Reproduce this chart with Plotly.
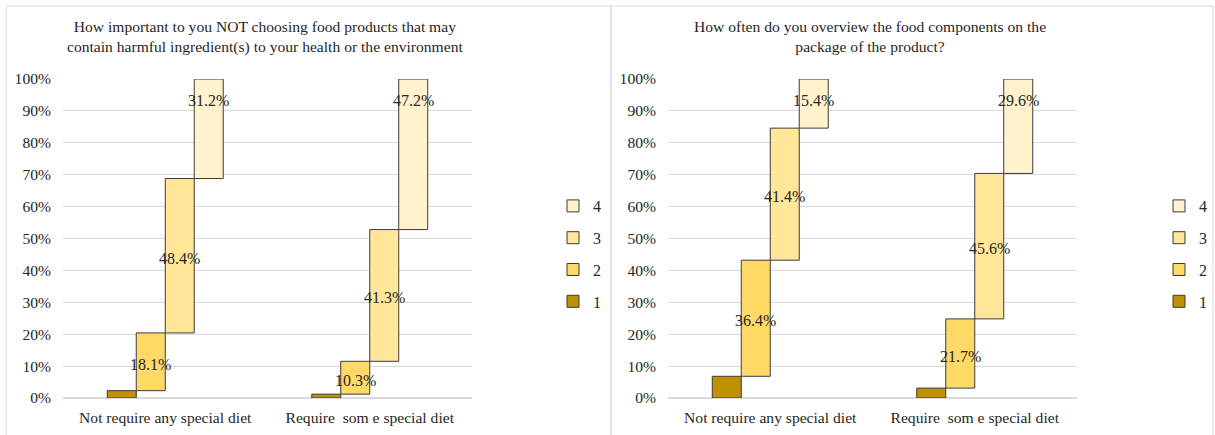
import plotly.graph_objects as go

# Survey results: share of answers 1..4 per diet group (percent)
categories = ["Not require any special diet", "Require  som e special diet"]
levels = ["1", "2", "3", "4"]

importance_not_req = [2.3, 18.1, 48.4, 31.2]
importance_req = [1.2, 10.3, 41.3, 47.2]
overview_not_req = [6.8, 36.4, 41.4, 15.4]
overview_req = [3.1, 21.7, 45.6, 29.6]

title_left = "How important to you NOT choosing food products that may<br>contain harmful ingredient(s) to your health or the environment"
title_right = "How often do you overview the food components on the<br>package of the product?"

colors = ["#BF9000", "#FFD966", "#FFE699", "#FFF2CC"]
edge = "#3B3B3B"
font_family = "Liberation Serif"
text_color = "#262626"

BARGAP = 0.433
N_LEVELS = len(levels)
TOP_LABEL_Y = 93.4  # labels of the top segment sit just under the 100% line

fig = go.Figure()


def bases(values):
    out, acc = [], 0.0
    for v in values:
        out.append(acc)
        acc += v
    return out


def add_panel(series_a, series_b, xaxis, yaxis, legend):
    base_a = bases(series_a)
    base_b = bases(series_b)
    for i, lvl in enumerate(levels):
        fig.add_trace(go.Bar(
            x=categories,
            y=[series_a[i], series_b[i]],
            base=[base_a[i], base_b[i]],
            name=lvl,
            marker=dict(color=colors[i], line=dict(color=edge, width=1)),
            xaxis=xaxis, yaxis=yaxis,
            legend=legend, legendgroup=legend + lvl,
            legendrank=N_LEVELS - i,
            hoverinfo="skip",
        ))
    # value labels for levels 2..4, centred on each floating bar
    width = (1 - BARGAP) / N_LEVELS
    for c, (vals, bs) in enumerate([(series_a, base_a), (series_b, base_b)]):
        for i in range(1, N_LEVELS):
            xc = c + (i - (N_LEVELS - 1) / 2) * width
            if i == N_LEVELS - 1:
                yc = TOP_LABEL_Y
            else:
                yc = bs[i] + vals[i] / 2 - 0.8
            fig.add_annotation(
                x=xc, y=yc, xref=xaxis, yref=yaxis,
                text=f"{vals[i]:.1f}%", showarrow=False,
                font=dict(family=font_family, size=16, color=text_color),
            )


add_panel(importance_not_req, importance_req, "x", "y", "legend")
add_panel(overview_not_req, overview_req, "x2", "y2", "legend2")

W, H = 1215, 435
ydom = [(435 - 398) / H, (435 - 79) / H]
xdom1 = [63 / W, 472 / W]
xdom2 = [668 / W, 1077 / W]

axis_font = dict(family=font_family, size=15.6, color=text_color)
xcommon = dict(
    type="category", showgrid=False, zeroline=False, showline=False,
    ticks="", tickfont=axis_font, ticklabelstandoff=8, fixedrange=True,
    automargin=False,
)
ycommon = dict(
    range=[0, 100], dtick=10, ticksuffix="%", showgrid=True,
    gridcolor="#D9D9D9", gridwidth=1, zeroline=True, zerolinecolor="#D9D9D9",
    showline=False, ticks="", tickfont=axis_font, ticklabelstandoff=11,
    fixedrange=True, automargin=False,
)

legend_common = dict(
    font=dict(family=font_family, size=16, color=text_color),
    traceorder="grouped", tracegroupgap=8,
    bgcolor="rgba(0,0,0,0)", yanchor="top", xanchor="left",
    itemwidth=30,
)

fig.update_layout(
    width=W, height=H,
    margin=dict(l=0, r=0, t=0, b=0, autoexpand=False),
    paper_bgcolor="white", plot_bgcolor="white",
    barmode="group", bargap=BARGAP, bargroupgap=0,
    showlegend=True,
    xaxis=dict(domain=xdom1, anchor="y", **xcommon),
    yaxis=dict(domain=ydom, anchor="x", **ycommon),
    xaxis2=dict(domain=xdom2, anchor="y2", **xcommon),
    yaxis2=dict(domain=ydom, anchor="x2", **ycommon),
    legend=dict(x=553 / W, y=(435 - 189) / H, **legend_common),
    legend2=dict(x=1159 / W, y=(435 - 189) / H, **legend_common),
)

# chart titles
for text, xc in [(title_left, 265 / W), (title_right, 870 / W)]:
    fig.add_annotation(
        x=xc, y=(435 - 16) / H, xref="paper", yref="paper",
        text=text, showarrow=False, xanchor="center", yanchor="top",
        align="center",
        font=dict(family=font_family, size=15.6, color=text_color),
    )

# panel frames
for x0, x1 in [(6, 611), (611, 1213)]:
    fig.add_shape(
        type="rect", xref="paper", yref="paper",
        x0=x0 / W, x1=x1 / W, y0=-0.1, y1=(435 - 6) / H,
        line=dict(color="#D9D9D9", width=1), layer="below",
    )

fig.write_html("out.html")
